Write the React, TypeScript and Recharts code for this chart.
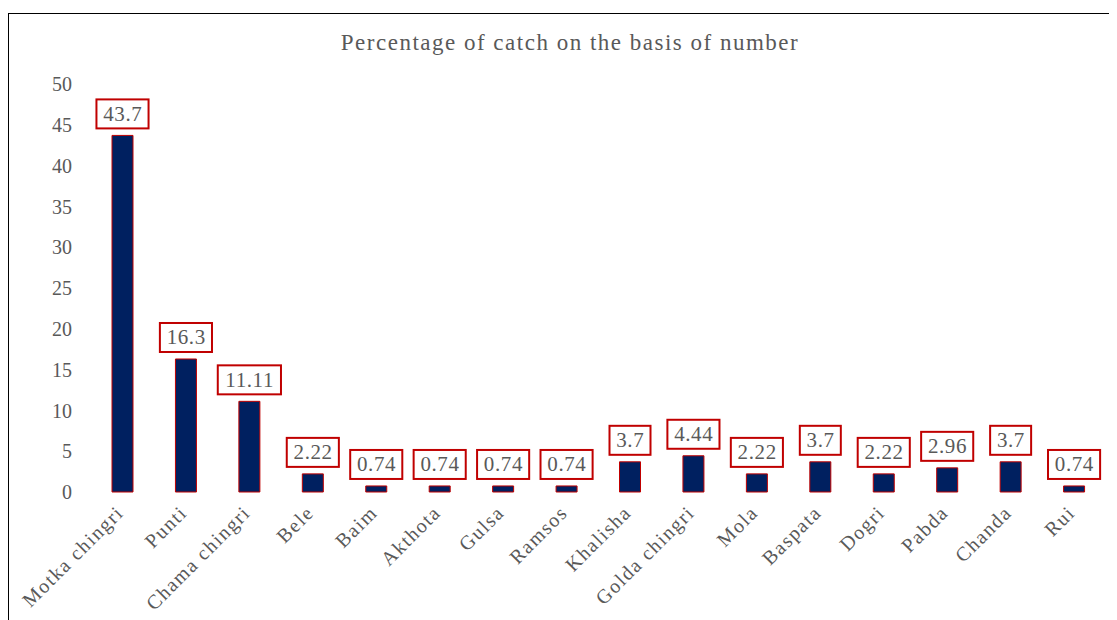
import React from "react";
import { Bar, BarChart, LabelList, XAxis, YAxis } from "recharts";

const species = [
  "Motka chingri", "Punti", "Chama chingri", "Bele", "Baim", "Akthota", "Gulsa", "Ramsos",
  "Khalisha", "Golda chingri", "Mola", "Baspata", "Dogri", "Pabda", "Chanda", "Rui",
];
const percent = [43.7, 16.3, 11.11, 2.22, 0.74, 0.74, 0.74, 0.74, 3.7, 4.44, 2.22, 3.7, 2.22, 2.96, 3.7, 0.74];
const yTicks = [0, 5, 10, 15, 20, 25, 30, 35, 40, 45, 50];

const data = species.map((name, i) => ({ name, value: percent[i] }));

const FONT = '"Liberation Serif", "Times New Roman", serif';
const GREY = "#595959";

function textWidth(s: string) {
  let w = 0;
  for (const ch of s) w += (ch === "." ? 5.2 : 10.5) + 0.6;
  return w;
}

function BoxLabel(props: any) {
  const { x, y, width, value } = props;
  const txt = String(value);
  const w = textWidth(txt) + 13;
  const h = 29;
  const cx = x + width / 2;
  const top = y - 7 - h;
  return (
    <g>
      <rect x={cx - w / 2} y={top} width={w} height={h} fill="#fff" stroke="#c00000" strokeWidth={2} />
      <text
        x={cx + 0.3}
        y={top + h / 2 + 7}
        textAnchor="middle"
        fill={GREY}
        fontSize={21}
        fontFamily={FONT}
        letterSpacing={0.6}
      >
        {txt}
      </text>
    </g>
  );
}

function XTick(props: any) {
  const { x, y, payload } = props;
  const tx = x + 2;
  const ty = y + 14;
  return (
    <text
      x={tx}
      y={ty}
      textAnchor="end"
      fill={GREY}
      fontSize={20}
      fontFamily={FONT}
      letterSpacing={1.5}
      transform={`rotate(-45, ${tx}, ${ty})`}
    >
      {payload.value}
    </text>
  );
}

export default function App() {
  return (
    <div
      style={{
        position: "relative",
        top: 5,
        width: 1108,
        height: 620,
        border: "1px solid #000",
        background: "#fff",
        overflow: "hidden",
      }}
    >
      <div
        style={{
          position: "absolute",
          top: 16,
          left: 0,
          width: 1122,
          textAlign: "center",
          fontFamily: FONT,
          fontSize: 23,
          letterSpacing: 1.5,
          color: GREY,
        }}
      >
        Percentage of catch on the basis of number
      </div>
      <BarChart width={1107} height={606} data={data} margin={{ top: 70, right: 10, left: 0, bottom: 0 }}>
        <XAxis
          dataKey="name"
          interval={0}
          axisLine={false}
          tickLine={false}
          height={128}
          tick={<XTick />}
        />
        <YAxis
          domain={[0, 50]}
          ticks={yTicks}
          width={82}
          axisLine={false}
          tickLine={false}
          tickSize={0}
          tickMargin={19}
          tick={{ fill: GREY, fontSize: 20, fontFamily: FONT }}
        />
        <Bar dataKey="value" fill="#002060" stroke="#c00000" strokeWidth={1} barSize={21} isAnimationActive={false}>
          <LabelList dataKey="value" content={<BoxLabel />} />
        </Bar>
      </BarChart>
    </div>
  );
}
